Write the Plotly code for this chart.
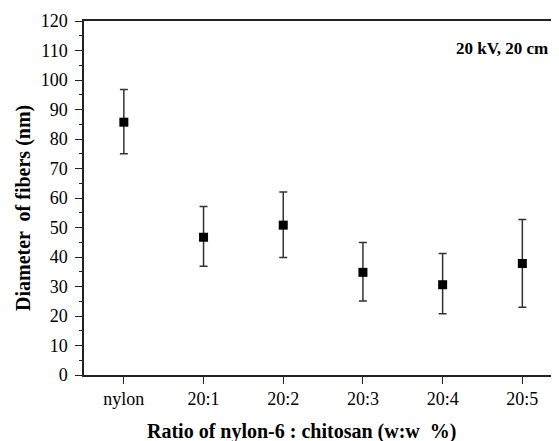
import plotly.graph_objects as go

categories = ["nylon", "20:1", "20:2", "20:3", "20:4", "20:5"]
diameter = [85.7, 46.7, 50.8, 34.8, 30.6, 37.8]
err_plus = [11.1, 10.4, 11.2, 10.1, 10.6, 14.9]
err_minus = [10.7, 9.8, 11.0, 9.7, 9.8, 14.8]

serif = "Liberation Serif"

fig = go.Figure()
fig.add_trace(go.Scatter(
    x=list(range(len(categories))), y=diameter, mode="markers",
    marker=dict(symbol="square", size=9, color="black"),
    error_y=dict(type="data", symmetric=False, array=err_plus, arrayminus=err_minus,
                 color="#333333", thickness=1.5, width=4),
    showlegend=False,
))

# page body has an 8px default margin: figure is sized so it ends at the window edge
fig.update_layout(
    width=551, height=433,
    margin=dict(l=76, r=0, t=13, b=66),
    paper_bgcolor="white", plot_bgcolor="white",
    font=dict(family=serif, size=16, color="black"),
    xaxis=dict(range=[-0.5, 5.46], tickmode="array", tickvals=list(range(len(categories))),
               ticktext=categories, showgrid=False, zeroline=False,
               showline=True, linecolor="#222222", linewidth=1.5, mirror=True,
               ticks="outside", ticklen=7, tickwidth=1.2, tickcolor="#222222",
               tickfont=dict(family=serif, size=18, color="black")),
    yaxis=dict(range=[0, 120], dtick=10, showgrid=False, zeroline=False,
               showline=True, linecolor="#222222", linewidth=1.5, mirror=False,
               ticks="outside", ticklen=7, tickwidth=1.2, tickcolor="#222222",
               ticklabelstandoff=4,
               minor=dict(dtick=5, ticks="outside", ticklen=3, tickwidth=1.2, tickcolor="#222222"),
               tickfont=dict(family=serif, size=18, color="black")),
)

fig.add_annotation(text="<b>Ratio of nylon-6 : chitosan (w:w  %)</b>", xref="paper", yref="paper",
                   x=(301 - 84) / 475, y=-(431 - 375) / 354, xanchor="center", yanchor="middle",
                   showarrow=False, font=dict(family=serif, size=20, color="black"))
fig.add_annotation(text="<b>Diameter  of fibers (nm)</b>", xref="paper", yref="paper",
                   x=-(84 - 23) / 475, y=(375 - 208) / 354, xanchor="center", yanchor="middle",
                   textangle=-90, showarrow=False, font=dict(family=serif, size=20, color="black"))
fig.add_annotation(text="<b>20 kV, 20 cm</b>", xref="paper", yref="paper",
                   x=(550 - 84) / 475, y=(375 - 48) / 354, xanchor="right", yanchor="middle",
                   showarrow=False, font=dict(family=serif, size=17, color="black"))

fig.write_html("out.html")
